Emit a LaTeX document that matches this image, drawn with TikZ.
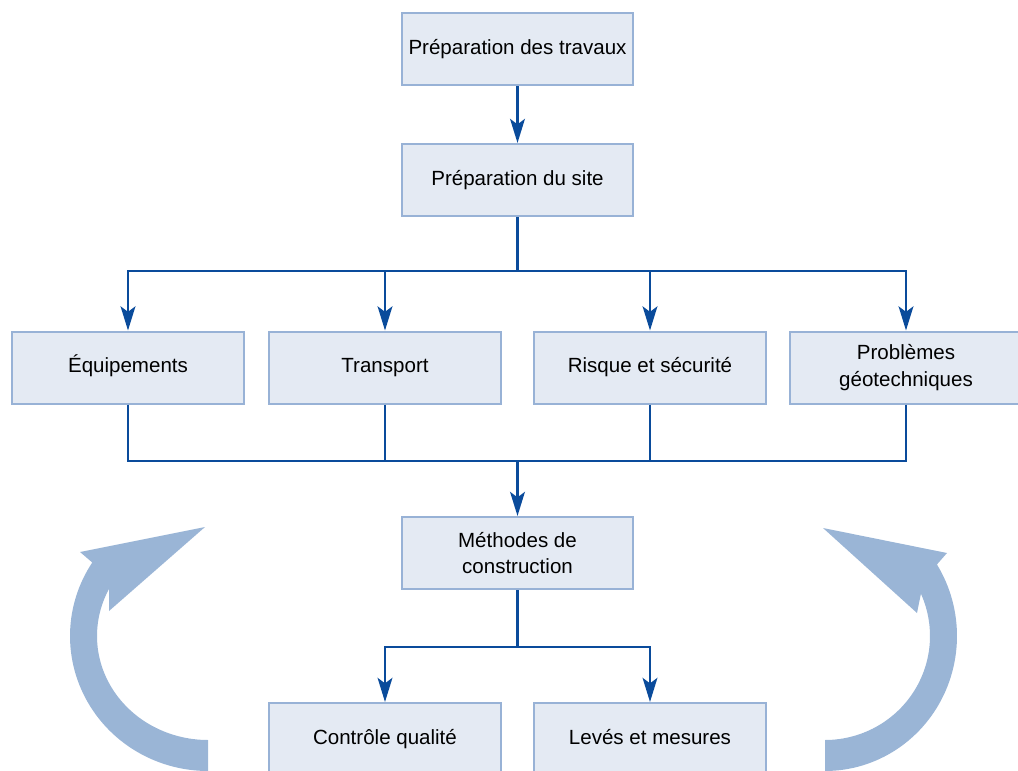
\documentclass[tikz,border=0pt]{standalone}
\usepackage{fontspec}
\setmainfont{Liberation Sans}
\usetikzlibrary{arrows.meta}
\definecolor{lineblue}{HTML}{0A4B9B}
\definecolor{boxfill}{HTML}{E4EAF3}
\definecolor{boxedge}{HTML}{98B2D6}
\definecolor{bigarrow}{HTML}{9AB5D6}
\begin{document}
\begin{tikzpicture}[x=0.75pt,y=-0.75pt,
  box/.style={draw=boxedge, fill=boxfill, line width=1.5pt, minimum width=173.5pt, minimum height=54pt, inner sep=0pt, align=center, font=\fontsize{15.4pt}{20pt}\selectfont},
  onebox/.style={box, text height=11pt, text depth=3.3pt},
  conn/.style={draw=lineblue, line width=2.2pt},
  arr/.style={conn, -{Stealth[length=18pt,width=11pt,inset=4pt]}}]
\useasboundingbox (0,0) rectangle (1018,771);
% big curved arrows
\fill[bigarrow] plot[domain=270:147,samples=60] ({208+138*cos(\x)},{636-135*sin(\x)})
  -- (80,552) -- (205,527) -- (109,611)
  -- plot[domain=153:270,samples=60] ({208+111*cos(\x)},{636-104*sin(\x)}) -- cycle;
\fill[bigarrow] plot[domain=-90:32,samples=60] ({825+132*cos(\x)},{636-135*sin(\x)})
  -- (947,553) -- (823,528) -- (917,613)
  -- plot[domain=24:-90,samples=60] ({825+105*cos(\x)},{636-104*sin(\x)}) -- cycle;
% boxes
\node[onebox] (trav) at (517.5,49) {Préparation des travaux};
\node[onebox] (site) at (517.5,180) {Préparation du site};
\node[onebox] (equip) at (128,367.5) {Équipements};
\node[onebox] (transp) at (385,367.5) {Transport};
\node[onebox] (risque) at (650,367.5) {Risque et sécurité};
\node[box] (probl) at (906,367.5) {Problèmes\\géotechniques};
\node[box] (meth) at (517.5,553) {Méthodes de\\construction};
\node[onebox] (ctrl) at (385,739) {Contrôle qualité};
\node[onebox] (leves) at (650,739) {Levés et mesures};
% junction points
\coordinate (b1) at (517.5,271);
\coordinate (m1) at (517.5,461);
\coordinate (b2) at (517.5,647);
% connectors
\draw[arr] (trav) -- (site);
\draw[conn] (site) -- (b1);
\draw[arr] (b1) -| (equip);
\draw[arr] (b1) -| (transp);
\draw[arr] (b1) -| (risque);
\draw[arr] (b1) -| (probl);
\draw[conn] (equip) |- (m1);
\draw[conn] (transp) |- (m1);
\draw[conn] (risque) |- (m1);
\draw[conn] (probl) |- (m1);
\draw[arr] (m1) -- (meth);
\draw[conn] (meth) -- (b2);
\draw[arr] (b2) -| (ctrl);
\draw[arr] (b2) -| (leves);
\end{tikzpicture}
\end{document}
